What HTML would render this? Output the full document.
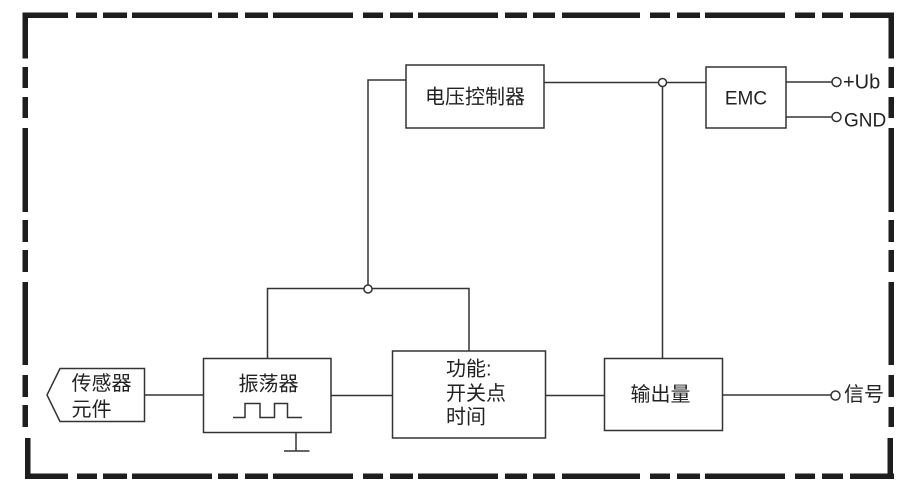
<!DOCTYPE html>
<html><head><meta charset="utf-8"><style>
html,body{margin:0;padding:0;background:#fff;}
svg{display:block;}
text{font-family:"Liberation Sans","Noto Sans CJK SC",sans-serif;fill:#222;}
.c{font-family:"Liberation Sans","Noto Sans CJK SC",sans-serif;font-size:20px;}
</style></head><body>
<svg width="915" height="499" viewBox="0 0 915 499" xmlns="http://www.w3.org/2000/svg">
<g fill="#1e1e1e">
<!-- top -->
<rect x="22.5" y="12.5" width="45.5" height="5.5"/>
<rect x="76" y="12.5" width="21" height="5.5"/>
<rect x="103" y="12.5" width="24" height="5.5"/>
<rect x="132" y="12.5" width="80" height="5.5"/>
<rect x="218" y="12.5" width="20" height="5.5"/>
<rect x="245" y="12.5" width="23" height="5.5"/>
<rect x="273" y="12.5" width="80" height="5.5"/>
<rect x="363" y="12.5" width="20" height="5.5"/>
<rect x="390" y="12.5" width="23" height="5.5"/>
<rect x="418" y="12.5" width="80" height="5.5"/>
<rect x="505" y="12.5" width="22" height="5.5"/>
<rect x="533" y="12.5" width="22" height="5.5"/>
<rect x="562" y="12.5" width="78" height="5.5"/>
<rect x="650" y="12.5" width="20" height="5.5"/>
<rect x="677" y="12.5" width="23" height="5.5"/>
<rect x="705" y="12.5" width="80" height="5.5"/>
<rect x="795" y="12.5" width="20" height="5.5"/>
<rect x="822" y="12.5" width="21" height="5.5"/>
<rect x="850" y="12.5" width="44" height="5.5"/>
<!-- bottom -->
<rect x="25" y="473.5" width="43" height="5.5"/>
<rect x="77" y="473.5" width="20" height="5.5"/>
<rect x="103" y="473.5" width="24" height="5.5"/>
<rect x="132" y="473.5" width="80" height="5.5"/>
<rect x="218" y="473.5" width="20" height="5.5"/>
<rect x="245" y="473.5" width="23" height="5.5"/>
<rect x="273" y="473.5" width="80" height="5.5"/>
<rect x="363" y="473.5" width="20" height="5.5"/>
<rect x="390" y="473.5" width="23" height="5.5"/>
<rect x="418" y="473.5" width="80" height="5.5"/>
<rect x="505" y="473.5" width="22" height="5.5"/>
<rect x="533" y="473.5" width="22" height="5.5"/>
<rect x="562" y="473.5" width="78" height="5.5"/>
<rect x="650" y="473.5" width="20" height="5.5"/>
<rect x="677" y="473.5" width="23" height="5.5"/>
<rect x="705" y="473.5" width="80" height="5.5"/>
<rect x="795" y="473.5" width="20" height="5.5"/>
<rect x="822" y="473.5" width="21" height="5.5"/>
<rect x="850" y="473.5" width="44" height="5.5"/>
<!-- left -->
<rect x="22.5" y="12.5" width="5.5" height="46"/>
<rect x="22.5" y="67" width="5.5" height="21"/>
<rect x="22.5" y="97" width="5.5" height="21"/>
<rect x="22.5" y="128" width="5.5" height="84"/>
<rect x="22.5" y="220" width="5.5" height="22"/>
<rect x="22.5" y="250" width="5.5" height="22"/>
<rect x="22.5" y="282" width="5.5" height="83"/>
<rect x="22.5" y="375" width="5.5" height="22"/>
<rect x="22.5" y="405" width="5.5" height="22"/>
<rect x="25" y="438" width="5.5" height="41"/>
<!-- right -->
<rect x="888.5" y="12.5" width="5.5" height="46"/>
<rect x="888.5" y="67" width="5.5" height="21"/>
<rect x="888.5" y="97" width="5.5" height="21"/>
<rect x="888.5" y="128" width="5.5" height="84"/>
<rect x="888.5" y="220" width="5.5" height="22"/>
<rect x="888.5" y="250" width="5.5" height="22"/>
<rect x="888.5" y="282" width="5.5" height="83"/>
<rect x="888.5" y="375" width="5.5" height="22"/>
<rect x="888.5" y="407" width="5.5" height="20"/>
<rect x="887.5" y="438" width="5.5" height="41"/>
</g>

<g fill="none" stroke="#333" stroke-width="1.5">
<!-- boxes -->
<rect x="406" y="65" width="138" height="63"/>
<rect x="706" y="67" width="80" height="61"/>
<rect x="203.5" y="358.5" width="127.5" height="74"/>
<rect x="392.5" y="351" width="153" height="87"/>
<rect x="604.5" y="358.5" width="118" height="72"/>
<polygon points="60,368.5 144.5,368.5 144.5,421.5 60,421.5 47,395"/>
<!-- connectors -->
<polyline points="406,80 368,80 368,285"/>
<line x1="544" y1="82.5" x2="658.5" y2="82.5"/>
<line x1="666.5" y1="82.5" x2="706" y2="82.5"/>
<line x1="662.5" y1="86.5" x2="662.5" y2="358.5"/>
<circle cx="662.5" cy="82.5" r="4"/>
<line x1="786" y1="82" x2="832" y2="82"/>
<circle cx="836.5" cy="82" r="4.5"/>
<line x1="786" y1="117" x2="832" y2="117"/>
<circle cx="836.5" cy="117" r="4.5"/>
<polyline points="267.5,358.5 267.5,288.5 364,288.5"/>
<polyline points="372,288.5 469,288.5 469,351"/>
<circle cx="368" cy="289" r="4"/>
<line x1="144.5" y1="395" x2="203.5" y2="395"/>
<line x1="331" y1="395.5" x2="392.5" y2="395.5"/>
<line x1="545.5" y1="395.5" x2="604.5" y2="395.5"/>
<line x1="722.5" y1="395" x2="831" y2="395"/>
<circle cx="835.5" cy="395.5" r="4.5"/>
<!-- square wave -->
<polyline points="233,417.5 245,417.5 245,403.5 260,403.5 260,417.5 274.5,417.5 274.5,403.5 287.5,403.5 287.5,417.5 302,417.5"/>
<!-- ground -->
<line x1="296" y1="432.5" x2="296" y2="451"/>
<line x1="284" y1="451" x2="309.5" y2="451"/>
</g>

<g class="c">
<text x="475" y="103.5" text-anchor="middle" font-size="20">电压控制器</text>
<text x="746" y="104.5" text-anchor="middle" font-size="19">EMC</text>
<text x="843" y="88.5" font-size="20">+Ub</text>
<text x="844" y="126.5" font-size="19">GND</text>
<text x="71.5" y="390" font-size="20">传感器</text>
<text x="71.5" y="416" font-size="20">元件</text>
<text x="268.5" y="390.5" text-anchor="middle" font-size="20">振荡器</text>
<text x="446" y="375.5" font-size="20">功能:</text>
<text x="446" y="400" font-size="20">开关点</text>
<text x="446" y="423.5" font-size="20">时间</text>
<text x="660.5" y="401" text-anchor="middle" font-size="20">输出量</text>
<text x="844" y="401" font-size="20">信号</text>
</g>
</svg>
</body></html>
